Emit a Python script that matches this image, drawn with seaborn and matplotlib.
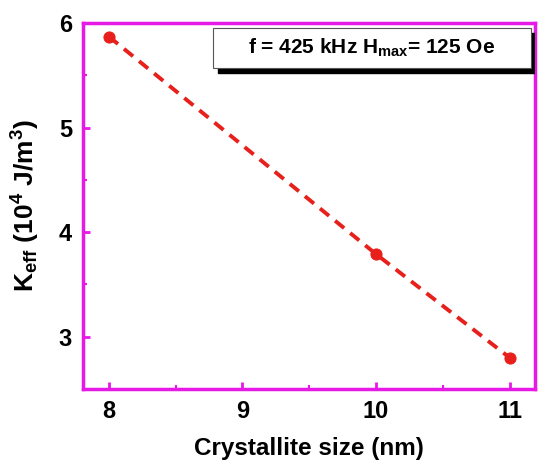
import pandas as pd
import seaborn as sns
import matplotlib.pyplot as plt
from matplotlib.patches import Rectangle
from matplotlib.ticker import MultipleLocator, AutoMinorLocator

# data
crystallite_size = [8, 10, 11]
k_eff = [5.87, 3.79, 2.80]

df = pd.DataFrame({'size': crystallite_size, 'keff': k_eff})

sns.set_theme(style="white")
plt.rcParams['font.family'] = ['Liberation Sans', 'DejaVu Sans']
plt.rcParams['font.weight'] = 'bold'
plt.rcParams['text.color'] = 'black'
plt.rcParams['axes.labelcolor'] = 'black'
plt.rcParams['xtick.color'] = 'black'
plt.rcParams['ytick.color'] = 'black'
plt.rcParams['mathtext.fontset'] = 'custom'
plt.rcParams['mathtext.rm'] = 'Liberation Sans:bold'
plt.rcParams['mathtext.it'] = 'Liberation Sans:bold'
plt.rcParams['mathtext.bf'] = 'Liberation Sans:bold'

fig = plt.figure(figsize=(5.5, 4.72), dpi=100)
ax = fig.add_axes([83 / 550, 1 - 389 / 472, 452 / 550, 366 / 472])

magenta = '#e619e6'
sns.lineplot(data=df, x='size', y='keff', ax=ax, color='#e8201c', linestyle='--',
             linewidth=2.8, marker='o', markersize=8, markeredgecolor='#e8201c')
for line in ax.lines:
    line.set_dashes((3, 2))

ax.set_xlim(7.806, 11.19)
ax.set_ylim(2.5, 6.0)
ax.xaxis.set_major_locator(MultipleLocator(1))
ax.yaxis.set_major_locator(MultipleLocator(1))
ax.xaxis.set_minor_locator(AutoMinorLocator(2))
ax.yaxis.set_minor_locator(AutoMinorLocator(2))

for s in ax.spines.values():
    s.set_color(magenta)
    s.set_linewidth(2.5)
ax.tick_params(which='major', direction='in', length=5, width=2, color=magenta,
               labelcolor='black', labelsize=17, left=True, bottom=True, pad=8)
ax.tick_params(which='minor', direction='in', length=3, width=1.5, color=magenta,
               left=True, bottom=True)
for lab in ax.get_xticklabels() + ax.get_yticklabels():
    lab.set_fontweight('bold')

ax.set_xlabel('Crystallite size (nm)', fontsize=17.5, fontweight='bold', labelpad=10)
ax.set_ylabel(r'K$_{\mathrm{eff}}$ (10$^{4}$ J/m$^{3}$)', fontsize=19, fontweight='bold', labelpad=12)

# annotation box with drop shadow
x0, y0, w, h = 0.288, 0.877, 0.703, 0.109
ax.add_patch(Rectangle((x0 + 0.011, y0 - 0.014), w, h, transform=ax.transAxes,
                       facecolor='black', edgecolor='black', zorder=4))
ax.add_patch(Rectangle((x0, y0), w, h, transform=ax.transAxes,
                       facecolor='white', edgecolor='#555555', linewidth=0.8, zorder=5))
ax.text(x0 + w / 2, y0 + h / 2, r'f = 425 kHz H$_{\mathrm{max}}$= 125 Oe',
        transform=ax.transAxes, ha='center', va='center', fontsize=15,
        fontweight='bold', zorder=6)

plt.savefig('out.png', dpi=100)
